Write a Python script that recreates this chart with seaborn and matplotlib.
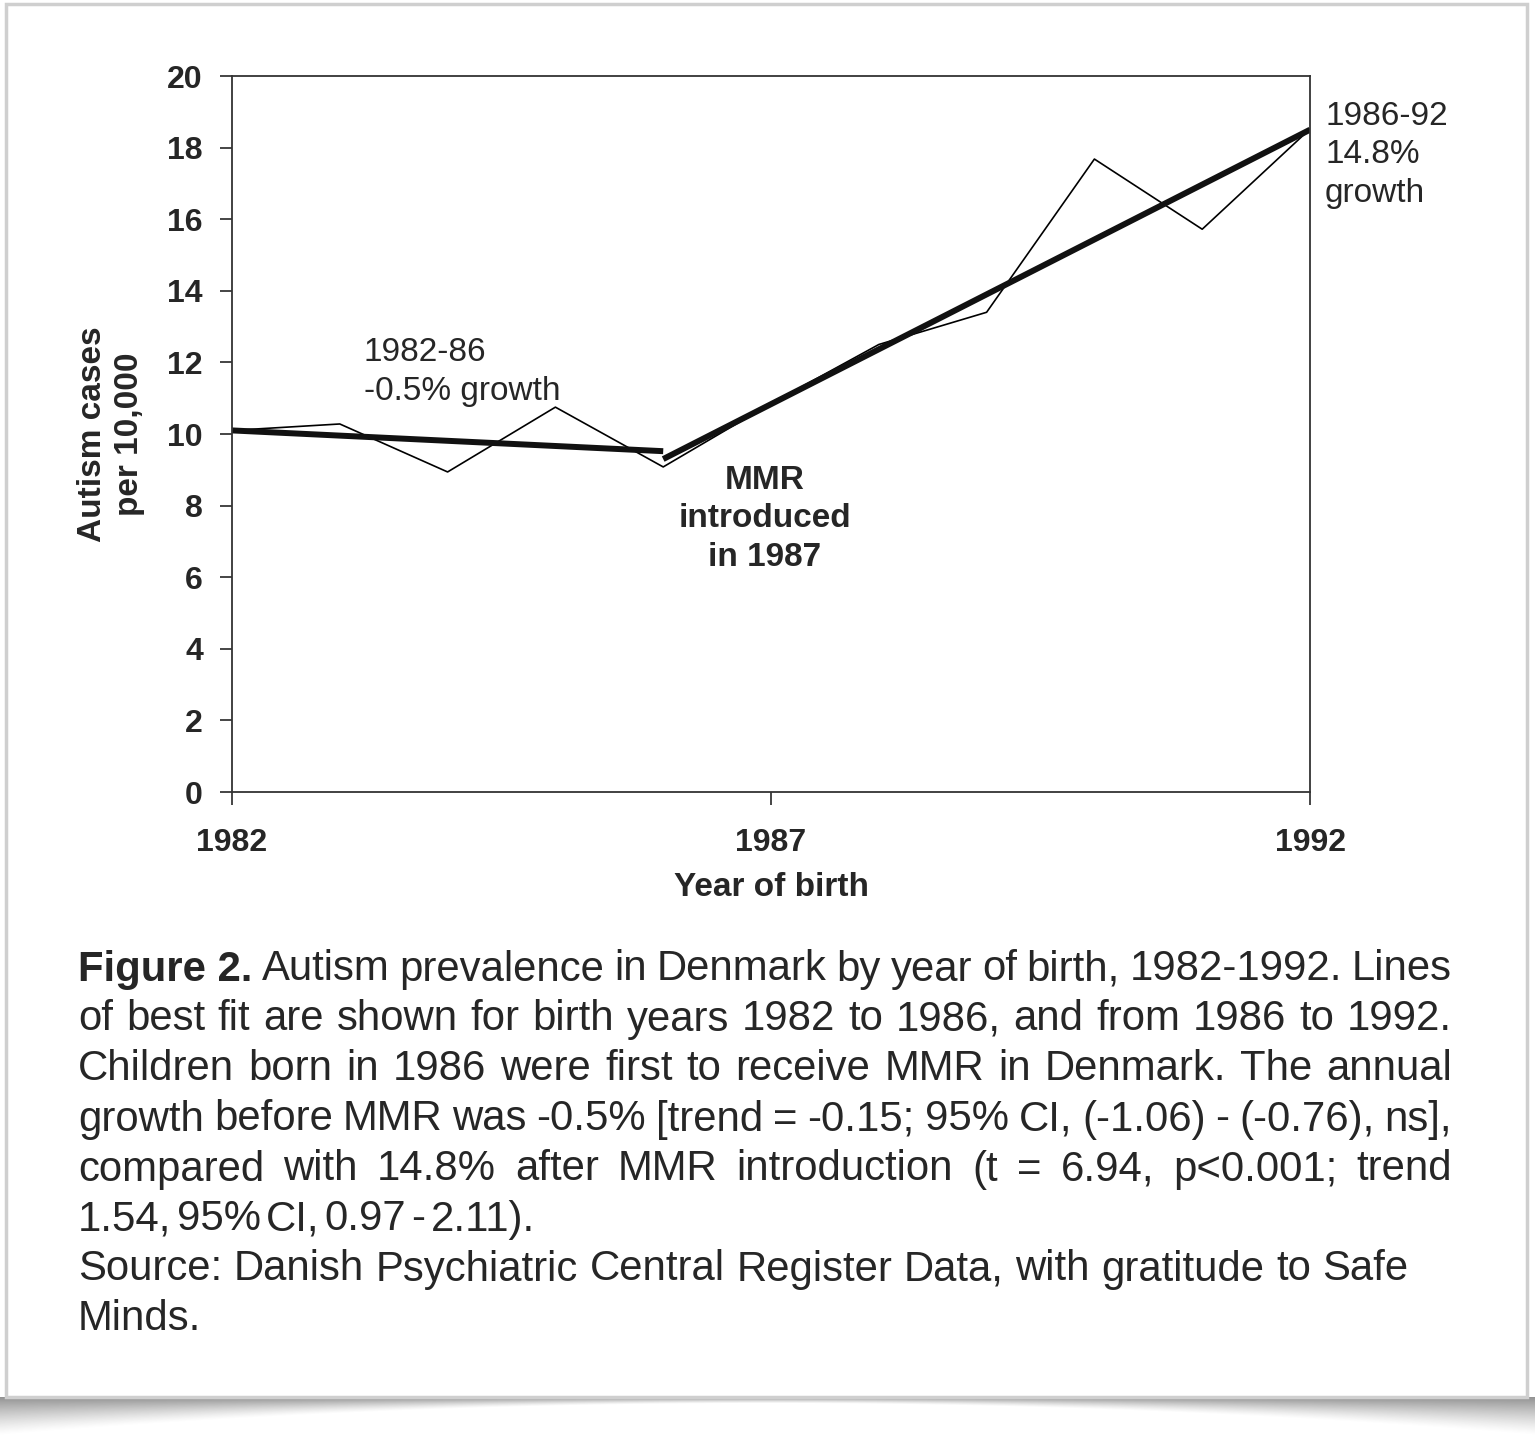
import numpy as np
import pandas as pd
import matplotlib
matplotlib.use('Agg')
import matplotlib.pyplot as plt
import seaborn as sns
from matplotlib.patches import Rectangle

years = [1982, 1983, 1984, 1985, 1986, 1987, 1988, 1989, 1990, 1991, 1992]
cases = [10.1, 10.28, 8.94, 10.75, 9.08, 10.85, 12.5, 13.4, 17.68, 15.72, 18.52]

# lines of best fit (end points)
fit1_years = [1982, 1986]
fit1_cases = [10.1, 9.52]
fit2_years = [1986, 1992]
fit2_cases = [9.3, 18.5]

xticks = [1982, 1987, 1992]
yticks = list(range(0, 21, 2))

# caption lines: (words, right edge to justify to or None)
caption_lines = [
    ([("Figure 2.", True), ("Autism", False), ("prevalence", False), ("in", False), ("Denmark", False),
      ("by", False), ("year", False), ("of", False), ("birth,", False), ("1982-1992.", False), ("Lines", False)], 1452),
    ([(w, False) for w in "of best fit are shown for birth years 1982 to 1986, and from 1986 to 1992.".split()], 1452),
    ([(w, False) for w in "Children born in 1986 were first to receive MMR in Denmark. The annual".split()], 1452),
    ([(w, False) for w in "growth before MMR was -0.5% [trend = -0.15; 95% CI, (-1.06) - (-0.76), ns],".split()], 1452),
    ([(w, False) for w in "compared with 14.8% after MMR introduction (t = 6.94, p<0.001; trend".split()], 1452),
    ([(w, False) for w in "1.54, 95% CI, 0.97 - 2.11).".split()], 535),
    ([(w, False) for w in "Source: Danish Psychiatric Central Register Data, with gratitude to Safe".split()], None),
    ([(w, False) for w in "Minds.".split()], None),
]

obs = pd.DataFrame({'year': years, 'cases': cases})
fit1 = pd.DataFrame({'year': fit1_years, 'cases': fit1_cases})
fit2 = pd.DataFrame({'year': fit2_years, 'cases': fit2_cases})

sns.set_style('ticks')
plt.rcParams['font.family'] = ['Liberation Sans', 'DejaVu Sans']

W, H = 1535, 1437
fig = plt.figure(figsize=(W / 100, H / 100), dpi=100)
fig.patch.set_facecolor('white')

# background card with drop shadow
bg = fig.add_axes([0, 0, 1, 1], zorder=-5)
bg.set_xlim(0, W)
bg.set_ylim(H, 0)
bg.axis('off')
card_bottom = 1397
xs = np.arange(W)
ys = np.arange(card_bottom, H)
X, Y = np.meshgrid(xs, ys)
c = W / 2
depth = 6 + 32 * (np.abs(X - c) / c) ** 2
alpha = np.clip(1 - (Y - card_bottom) / depth, 0, 1) ** 1.3 * 0.65
img = np.zeros((len(ys), W, 4))
img[..., :3] = 0.35
img[..., 3] = alpha
bg.imshow(img, extent=(0, W, H, card_bottom), aspect='auto', interpolation='bilinear')
bg.add_patch(Rectangle((6, 4), 1521, card_bottom - 4, facecolor='white', edgecolor='#cfcfcf', lw=2.5))

# main chart
ax = fig.add_axes([232 / W, 1 - 792 / H, (1310 - 232) / W, (792 - 76) / H])
sns.lineplot(data=obs, x='year', y='cases', ax=ax, color='black', lw=1.2)
sns.lineplot(data=fit1, x='year', y='cases', ax=ax, color='#111111', lw=4.3, solid_capstyle='butt')
sns.lineplot(data=fit2, x='year', y='cases', ax=ax, color='#111111', lw=4.3, solid_capstyle='butt')

ax.set_xlim(1982, 1992)
ax.set_ylim(0, 20)
ax.set_xticks(xticks)
ax.set_yticks(yticks)
ax.tick_params(axis='x', direction='out', length=9, width=1.2, pad=17, labelsize=23)
ax.tick_params(axis='y', direction='out', length=9, width=1.2, pad=12, labelsize=23)
for lab in ax.get_xticklabels() + ax.get_yticklabels():
    lab.set_fontweight('bold')
for sp in ax.spines.values():
    sp.set_visible(True)
    sp.set_linewidth(1.3)
    sp.set_color('#333333')
ax.set_xlabel('Year of birth', fontsize=24, fontweight='bold', labelpad=10)
ax.set_ylabel('Autism cases\nper 10,000', fontsize=24, fontweight='bold', labelpad=16, linespacing=1.25)

ax.text(1983.22, 11.73, '1982-86\n-0.5% growth', fontsize=24, ha='left', va='center', linespacing=1.32)
ax.text(1986.94, 7.63, 'MMR\nintroduced\nin 1987', fontsize=24, fontweight='bold', ha='center', va='center',
        linespacing=1.32)
ax.text(1992.14, 17.8, '1986-92\n14.8%\ngrowth', fontsize=24, ha='left', va='center', linespacing=1.32,
        clip_on=False)

# caption, justified like the original
renderer = fig.canvas.get_renderer()
left = 78
base = 30
probe = bg.text(0, 0, "Source: Danish Psychiatric Central Register Data, with gratitude to Safe", fontsize=base)
pw = probe.get_window_extent(renderer).width
probe.remove()
fs = base * (1407 - left) / pw
y0, step = 965, 50
for i, (words, right) in enumerate(caption_lines):
    y = y0 + i * step
    texts = [bg.text(0, y, w, fontsize=fs, fontweight='bold' if b else 'normal', va='center_baseline')
             for w, b in words]
    widths = [t.get_window_extent(renderer).width for t in texts]
    sp = bg.text(0, y, 'a a', fontsize=fs)
    sp2 = bg.text(0, y, 'aa', fontsize=fs)
    space = sp.get_window_extent(renderer).width - sp2.get_window_extent(renderer).width
    sp.remove()
    sp2.remove()
    if right is not None and len(words) > 1:
        space = (right - left - sum(widths)) / (len(words) - 1)
    x = left
    for t, w in zip(texts, widths):
        t.set_x(x)
        x += w + space

fig.savefig('out.png', dpi=100, facecolor='white')
